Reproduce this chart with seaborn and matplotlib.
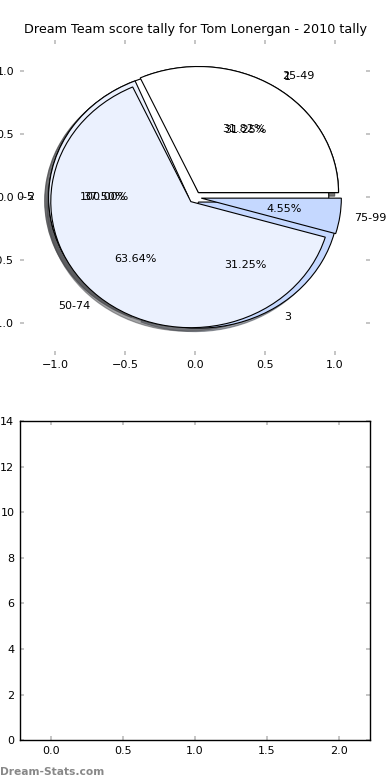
import matplotlib
matplotlib.use('Agg')
import matplotlib.pyplot as plt
import seaborn as sns

# score ranges (top pie, drawn last)
score_labels = ['25-49', '50-74', '75-99']
score_counts = [7, 14, 1]

# goals per game
goal_labels = ['1', '2', '3']
goal_counts = [5, 6, 5]

# single-slice pie
other_labels = ['0-5']
other_counts = [1]

pie_colors = ['#ffffff', '#ebf1fe', '#c5d8ff']
title = 'Dream Team score tally for Tom Lonergan - 2010 tally'

sns.set_style('white')
plt.rcParams['font.family'] = ['DejaVu Sans']
plt.rcParams['text.color'] = 'black'

fig = plt.figure(figsize=(3.9, 7.8), dpi=100)
ax1 = fig.add_axes([0.051, 0.545, 0.898, 0.404])
ax2 = fig.add_axes([0.051, 0.051, 0.898, 0.409])

# draw the pies on top of each other
for labels, counts in [(other_labels, other_counts),
                       (goal_labels, goal_counts),
                       (score_labels, score_counts)]:
    wedges, texts, autotexts = ax1.pie(
        counts, labels=labels, colors=pie_colors[:len(counts)],
        explode=[0.045] * len(counts), autopct='%.2f%%', shadow=True,
        wedgeprops={'edgecolor': 'black', 'linewidth': 0.8},
        textprops={'fontsize': 8, 'color': 'black'})

ax1.set_aspect('auto')
ax1.set_xlim(-1.25, 1.25)
ax1.set_ylim(-1.25, 1.25)
ax1.set_xticks([-1.0, -0.5, 0.0, 0.5, 1.0])
ax1.set_yticks([-1.0, -0.5, 0.0, 0.5, 1.0])
ax1.set_frame_on(False)
ax1.set_title(title, fontsize=9.2, pad=5, color='black')

# empty lower panel
ax2.set_xlim(-0.22, 2.22)
ax2.set_ylim(0, 14)
ax2.set_xticks([0.0, 0.5, 1.0, 1.5, 2.0])
ax2.set_yticks(range(0, 15, 2))
for s in ax2.spines.values():
    s.set_color('black')
    s.set_linewidth(1.0)

for ax in (ax1, ax2):
    ax.tick_params(direction='in', length=3, width=1.2, color='#bbbbbb',
                   labelsize=8, labelcolor='black', top=True, right=True,
                   bottom=True, left=True, pad=4)

fig.text(0.0, 0.004, 'Dream-Stats.com', color='#888888', fontsize=7.7,
         fontweight='bold', ha='left', va='bottom')

plt.savefig('out.png', dpi=100)
